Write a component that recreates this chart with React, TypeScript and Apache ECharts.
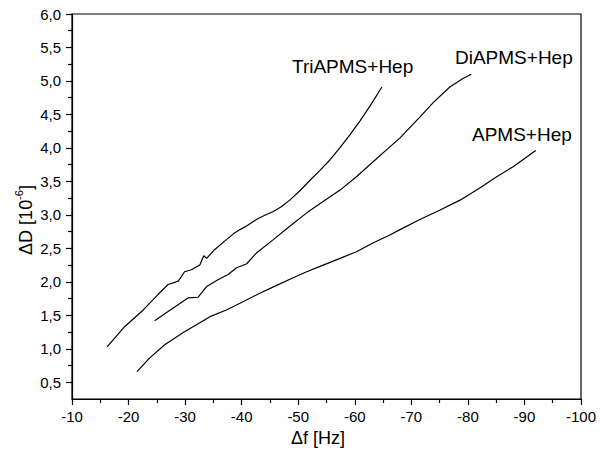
import React, { useEffect, useRef } from "react";
import * as echarts from "echarts";

// Δf [Hz] and ΔD [10^-6] values
const triX = [-16.2, -19.3, -22.6, -25.2, -27.0, -28.8, -29.9, -31.1, -32.6, -33.3, -33.8, -35.2, -37.3, -38.6, -39.7, -41.0, -42.6, -44.0, -45.6, -47.0, -48.5, -50.3, -52.0, -53.8, -55.6, -57.35, -59.1, -60.9, -62.65, -64.8];
const triY = [1.03, 1.33, 1.58, 1.81, 1.96, 2.01, 2.15, 2.18, 2.25, 2.39, 2.35, 2.48, 2.63, 2.72, 2.78, 2.84, 2.93, 2.99, 3.05, 3.12, 3.22, 3.36, 3.51, 3.66, 3.82, 4.0, 4.19, 4.4, 4.62, 4.91];

const diX = [-24.6, -27.9, -30.5, -32.3, -33.8, -35.8, -37.6, -39.1, -40.9, -42.6, -45.6, -48.5, -51.5, -54.4, -57.4, -60.3, -63.2, -65.6, -68.0, -71.5, -73.9, -76.8, -79.2, -80.6];
const diY = [1.42, 1.61, 1.76, 1.77, 1.93, 2.03, 2.11, 2.21, 2.27, 2.43, 2.63, 2.83, 3.03, 3.20, 3.37, 3.57, 3.79, 3.97, 4.15, 4.46, 4.68, 4.91, 5.04, 5.10];

const apmsX = [-21.5, -23.7, -26.4, -29.6, -32.0, -34.4, -37.3, -39.7, -43.2, -46.0, -49.1, -51.5, -54.4, -57.4, -60.3, -63.2, -66.2, -68.0, -71.5, -75.0, -78.6, -82.1, -85.1, -88.0, -92.0];
const apmsY = [0.66, 0.86, 1.06, 1.24, 1.36, 1.48, 1.58, 1.68, 1.83, 1.94, 2.06, 2.15, 2.25, 2.35, 2.45, 2.58, 2.70, 2.78, 2.93, 3.07, 3.22, 3.40, 3.57, 3.72, 3.96];

const seriesNames = ["TriAPMS+Hep", "DiAPMS+Hep", "APMS+Hep"];
const yMajorTicks = [0.5, 1.0, 1.5, 2.0, 2.5, 3.0, 3.5, 4.0, 4.5, 5.0, 5.5, 6.0];
const yMinorTicks = [0.75, 1.25, 1.75, 2.25, 2.75, 3.25, 3.75, 4.25, 4.75, 5.25, 5.75];

const FONT = "'Liberation Sans', Arial, Helvetica, sans-serif";

function pairs(xs: number[], ys: number[]) {
  return xs.map((x, i) => [x, ys[i]]);
}

export default function App() {
  const ref = useRef<HTMLDivElement>(null);
  useEffect(() => {
    if (!ref.current) return;
    const chart = echarts.init(ref.current, undefined, { renderer: "svg" });
    const lineStyle = { color: "#000", width: 1.2 };
    const axisLineStyle = { color: "#000", width: 1.2 };
    chart.setOption({
      animation: false,
      backgroundColor: "#fff",
      grid: {
        left: 72,
        right: 19,
        top: 14,
        bottom: 64,
        show: true,
        borderColor: "#000",
        borderWidth: 1.2,
        backgroundColor: "transparent",
      },
      xAxis: {
        type: "value",
        min: -100,
        max: -10,
        interval: 10,
        inverse: true,
        axisLine: { show: true, lineStyle: axisLineStyle },
        axisTick: { show: true, length: 6, inside: false, lineStyle: axisLineStyle },
        minorTick: { show: true, splitNumber: 2, length: 4, lineStyle: axisLineStyle },
        splitLine: { show: false },
        axisLabel: {
          color: "#000",
          fontSize: 15,
          fontFamily: FONT,
          margin: 10,
          formatter: (v: number) => String(v),
        },
      },
      yAxis: [
        {
          type: "value",
          min: 0.25,
          max: 6,
          axisLine: { show: true, lineStyle: axisLineStyle },
          axisTick: { show: true, length: 6, customValues: yMajorTicks, lineStyle: axisLineStyle },
          splitLine: { show: false },
          axisLabel: {
            color: "#000",
            fontSize: 15,
            fontFamily: FONT,
            margin: 11,
            customValues: yMajorTicks,
            formatter: (v: number) => v.toFixed(1).replace(".", ","),
          },
        },
        {
          type: "value",
          min: 0.25,
          max: 6,
          position: "left",
          axisLine: { show: false },
          axisTick: { show: true, length: 4, customValues: yMinorTicks, lineStyle: axisLineStyle },
          splitLine: { show: false },
          axisLabel: { show: false },
        },
      ],
      series: [
        { name: seriesNames[0], type: "line", data: pairs(triX, triY), showSymbol: false, lineStyle, itemStyle: { color: "#000" } },
        { name: seriesNames[1], type: "line", data: pairs(diX, diY), showSymbol: false, lineStyle, itemStyle: { color: "#000" } },
        { name: seriesNames[2], type: "line", data: pairs(apmsX, apmsY), showSymbol: false, lineStyle, itemStyle: { color: "#000" } },
      ],
      graphic: [
        {
          type: "text",
          x: 292,
          y: 66,
          style: { text: seriesNames[0], fontSize: 19, fontFamily: FONT, fill: "#000", align: "left", verticalAlign: "middle" },
        },
        {
          type: "text",
          x: 455,
          y: 57,
          style: { text: seriesNames[1], fontSize: 19, fontFamily: FONT, fill: "#000", align: "left", verticalAlign: "middle" },
        },
        {
          type: "text",
          x: 472,
          y: 134,
          style: { text: seriesNames[2], fontSize: 19, fontFamily: FONT, fill: "#000", align: "left", verticalAlign: "middle" },
        },
        {
          type: "text",
          x: 318,
          y: 438,
          style: { text: "Δf [Hz]", fontSize: 18, fontFamily: FONT, fill: "#000", align: "center", verticalAlign: "middle" },
        },
        {
          type: "text",
          x: 24,
          y: 220,
          rotation: Math.PI / 2,
          style: {
            text: "{a|ΔD [10}{s|-6}{a|]}",
            align: "center",
            verticalAlign: "middle",
            fill: "#000",
            rich: {
              a: { fontSize: 18, fontFamily: FONT, fill: "#000", lineHeight: 22, verticalAlign: "bottom" },
              s: { fontSize: 11, fontFamily: FONT, fill: "#000", lineHeight: 22, verticalAlign: "top" },
            },
          },
        },
      ],
    });
    return () => chart.dispose();
  }, []);
  return (
    <div
      ref={ref}
      style={{ position: "fixed", left: 0, top: 0, width: 600, height: 463 }}
    />
  );
}
